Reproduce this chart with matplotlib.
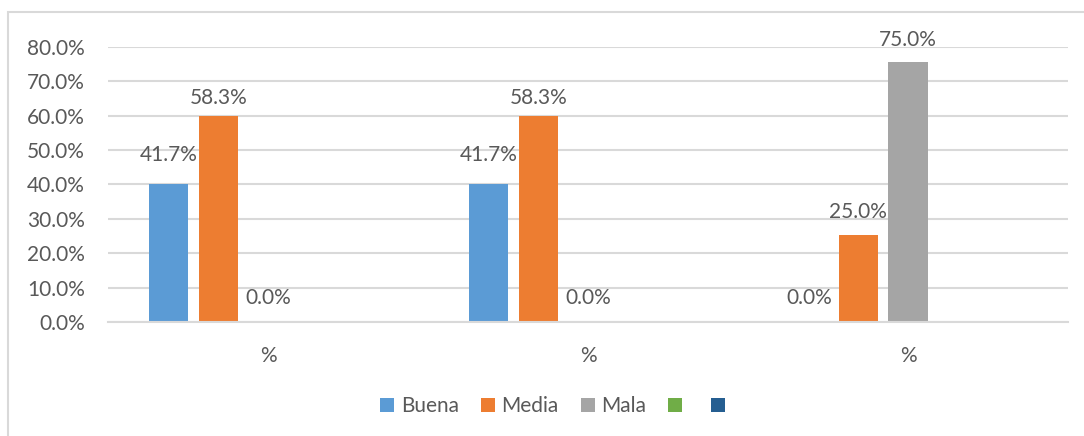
import numpy as np
import matplotlib.pyplot as plt
from matplotlib.patches import Rectangle, Patch

# data
categories = ["%", "%", "%"]
series = ["Buena", "Media", "Mala", "", ""]
colors = ["#5B9BD5", "#ED7D31", "#A5A5A5", "#70AD47", "#255E91"]
# bar heights as drawn (%)
buena = [40.0, 40.0, 0.0]
media = [60.0, 60.0, 25.3]
mala = [0.0, 0.0, 75.5]
# value labels shown on the bars
buena_lbl = [41.7, 41.7, 0.0]
media_lbl = [58.3, 58.3, 25.0]
mala_lbl = [0.0, 0.0, 75.0]

plt.rcParams['font.family'] = ['Lato', 'DejaVu Sans']
txt = "#595959"
grid = "#D9D9D9"
fs = 15

fig = plt.figure(figsize=(10.84, 4.36), dpi=100)
ax = fig.add_axes([108/1084, 1-322/436, 960/1084, 275/436])

x = np.arange(len(categories))
step = 0.155
w = 0.122
vals = [buena, media, mala]
lbls = [buena_lbl, media_lbl, mala_lbl]
for i in range(3):
    pos = x + (i-2)*step
    ax.bar(pos, vals[i], w, color=colors[i], zorder=2)
    for p, lv in zip(pos, lbls[i]):
        ax.annotate("%.1f%%" % lv, (p, lv), xytext=(0, 24), textcoords="offset pixels",
                    ha="center", va="center", fontsize=fs, color=txt, zorder=3)

ax.set_xlim(-0.5, 2.5)
ax.set_ylim(0, 80)
ax.set_yticks(np.arange(0, 81, 10))
ax.set_yticklabels(["%.1f%%" % v for v in np.arange(0, 81, 10)])
ax.set_xticks(x)
ax.set_xticklabels(categories)
ax.tick_params(axis="both", length=0, labelsize=fs, labelcolor=txt)
ax.tick_params(axis="y", pad=16.5)
ax.tick_params(axis="x", pad=17)
ax.yaxis.grid(True, color=grid, lw=1.5, zorder=0)
ax.set_axisbelow(True)
for s in ["top", "right", "left"]:
    ax.spines[s].set_visible(False)
ax.spines["bottom"].set_color(grid)
ax.spines["bottom"].set_linewidth(1.5)

handles = [Patch(facecolor=c, edgecolor="none") for c in colors]
fig.legend(handles, series, loc="center", bbox_to_anchor=(556/1084, 1-406/436), ncol=5,
           frameon=False, fontsize=fs, labelcolor=txt, handlelength=0.67, handleheight=0.67,
           handletextpad=0.33, columnspacing=1.05)

fig.patches.append(Rectangle((8/1084, -0.05), 1.1, 1-12/436+0.05, transform=fig.transFigure,
                             fill=False, edgecolor=grid, lw=1.5))

fig.savefig("out.png", dpi=100)
